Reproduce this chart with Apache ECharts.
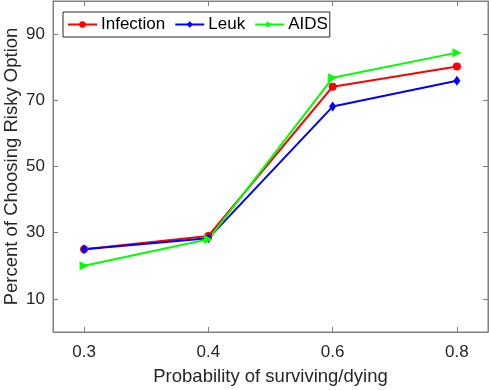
<!DOCTYPE html>
<html><head><meta charset="utf-8">
<script src="https://cdn.jsdelivr.net/npm/echarts@6/dist/echarts.min.js"></script>
<style>html,body{margin:0;padding:0;background:#fff}#c{width:489px;height:390px}</style>
</head><body><div id="c"></div>
<script>
const categories = ['0.3', '0.4', '0.6', '0.8'];
const infection = [25.0, 29.0, 74.1, 80.2];
const leuk = [25.0, 28.3, 68.1, 75.9];
const aids = [20.0, 28.0, 76.8, 84.4];
const yTicks = [10, 30, 50, 70, 90];

const font = 'Liberation Sans, Arial, Helvetica, sans-serif';
const axisCol = '#808080';
const textCol = '#262626';
const toPairs = arr => arr.map((v, i) => [i, v]);
const xTickVals = categories.map((c, i) => i);

const chart = echarts.init(document.getElementById('c'));
chart.setOption({
  animation: false,
  backgroundColor: '#fff',
  textStyle: {fontFamily: font},
  grid: {left: 53, right: 1, top: 1, bottom: 58, containLabel: false, outerBoundsMode: 'none',
    show: true, borderColor: axisCol, borderWidth: 1, backgroundColor: 'transparent'},
  legend: {
    left: 63, top: 12,
    orient: 'horizontal',
    itemWidth: 29, itemHeight: 8, itemGap: 9,
    padding: [4, 2, 4, 4],
    borderColor: textCol, borderWidth: 1, borderRadius: 0,
    backgroundColor: '#fff',
    textStyle: {fontFamily: font, fontSize: 17, color: '#000', padding: [0, 0, 0, -1]},
    data: ['Infection', 'Leuk', 'AIDS']
  },
  xAxis: [{
    type: 'value', min: -0.25, max: 3.25, position: 'bottom',
    name: 'Probability of surviving/dying', nameLocation: 'middle', nameGap: 35,
    nameMoveOverlap: false,
    nameTextStyle: {fontSize: 18.5, color: textCol, fontFamily: font},
    axisLine: {show: true, onZero: false, lineStyle: {color: axisCol, width: 1}},
    axisTick: {show: true, inside: true, length: 5, lineStyle: {color: axisCol}, customValues: xTickVals},
    axisLabel: {fontSize: 17, color: textCol, margin: 12, customValues: xTickVals,
      formatter: v => categories[Math.round(v)]},
    splitLine: {show: false}
  }, {
    type: 'value', min: -0.25, max: 3.25, position: 'top',
    axisLine: {show: true, onZero: false, lineStyle: {color: axisCol, width: 1}},
    axisTick: {show: true, inside: true, length: 5, lineStyle: {color: axisCol}, customValues: xTickVals},
    axisLabel: {show: false}, splitLine: {show: false}
  }],
  yAxis: [{
    type: 'value', min: 0, max: 100, position: 'left',
    name: 'Percent of Choosing Risky Option', nameLocation: 'middle', nameGap: 32,
    nameMoveOverlap: false,
    nameTextStyle: {fontSize: 18.5, color: textCol, fontFamily: font},
    axisLine: {show: true, onZero: false, lineStyle: {color: axisCol, width: 1}},
    axisTick: {show: true, inside: true, length: 5, lineStyle: {color: axisCol}, customValues: yTicks},
    axisLabel: {fontSize: 17, color: textCol, margin: 8, customValues: yTicks},
    splitLine: {show: false}
  }, {
    type: 'value', min: 0, max: 100, position: 'right',
    axisLine: {show: true, onZero: false, lineStyle: {color: axisCol, width: 1}},
    axisTick: {show: true, inside: true, length: 5, lineStyle: {color: axisCol}, customValues: yTicks},
    axisLabel: {show: false}, splitLine: {show: false}
  }],
  series: [{
    name: 'Infection', type: 'line', data: toPairs(infection),
    symbol: 'circle', symbolSize: 8,
    lineStyle: {color: '#ff0000', width: 2}, itemStyle: {color: '#ff0000'}
  }, {
    name: 'Leuk', type: 'line', data: toPairs(leuk),
    symbol: 'diamond', symbolSize: [7, 10],
    lineStyle: {color: '#0000ff', width: 2}, itemStyle: {color: '#0000ff'}
  }, {
    name: 'AIDS', type: 'line', data: toPairs(aids),
    symbol: 'triangle', symbolSize: 9, symbolRotate: -90,
    lineStyle: {color: '#00ff00', width: 2}, itemStyle: {color: '#00ff00'}
  }]
});
</script></body></html>
